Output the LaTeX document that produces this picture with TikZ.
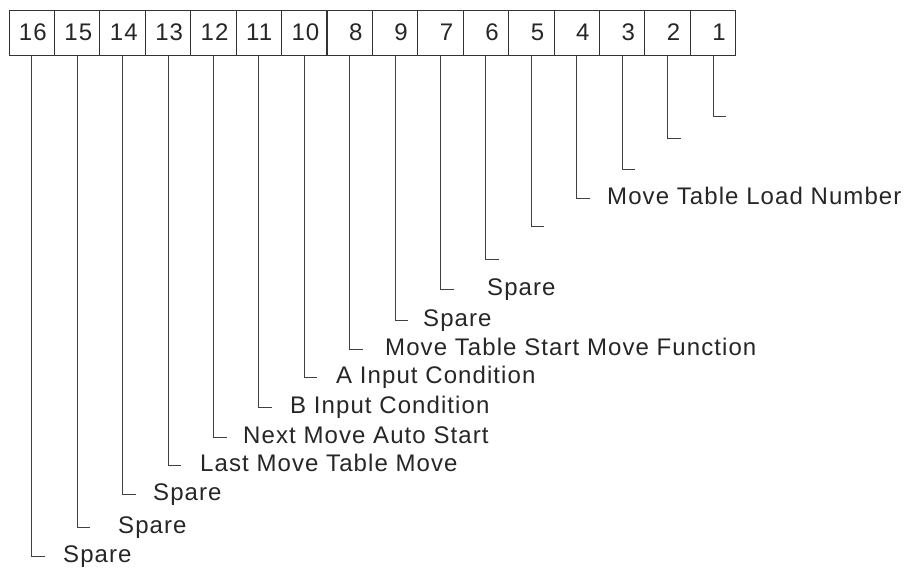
\documentclass[tikz,border=0pt]{standalone}
\usepackage{fontspec}
\setmainfont{Liberation Sans}[LetterSpace=4.5]
\usetikzlibrary{calc}

\begin{document}
\begin{tikzpicture}[x=1pt, y=-1pt,
    bitbox/.style={draw=black!80, line width=1pt, minimum height=45pt,
      text width=25.4pt, inner xsep=10pt, align=right, font=\fontsize{24}{28}\selectfont, text=black!85},
    lbl/.style={anchor=base west, inner sep=0pt, font=\fontsize{24}{28}\selectfont, text=black!85},
    leader/.style={draw=black!75, line width=1pt}]
    \useasboundingbox (0,0) rectangle (913,570);

    % 位框
    \node[bitbox] (b16) at (31.7, 32.5) {16};
    \node[bitbox] (b15) at (77.1, 32.5) {15};
    \node[bitbox] (b14) at (122.6, 32.5) {14};
    \node[bitbox] (b13) at (168.0, 32.5) {13};
    \node[bitbox] (b12) at (213.4, 32.5) {12};
    \node[bitbox] (b11) at (258.8, 32.5) {11};
    \node[bitbox] (b10) at (304.2, 32.5) {10};
    \node[bitbox] (b8) at (349.7, 32.5) {8};
    \node[bitbox] (b9) at (395.1, 32.5) {9};
    \node[bitbox] (b7) at (440.5, 32.5) {7};
    \node[bitbox] (b6) at (485.9, 32.5) {6};
    \node[bitbox] (b5) at (531.4, 32.5) {5};
    \node[bitbox] (b4) at (576.8, 32.5) {4};
    \node[bitbox] (b3) at (622.2, 32.5) {3};
    \node[bitbox] (b2) at (667.6, 32.5) {2};
    \node[bitbox] (b1) at (713.0, 32.5) {1};

    % 引线端点
    \coordinate (t1) at (726, 116);
    \coordinate (t2) at (681, 138);
    \coordinate (t3) at (635, 169);
    \coordinate (t4) at (590, 198);
    \coordinate (t5) at (544, 226);
    \coordinate (t6) at (499, 259);
    \coordinate (t7) at (454, 289);
    \coordinate (t9) at (408, 320.5);
    \coordinate (t8) at (363, 349);
    \coordinate (t10) at (317, 377);
    \coordinate (t11) at (272, 407);
    \coordinate (t12) at (227, 437);
    \coordinate (t13) at (181, 465);
    \coordinate (t14) at (136, 494);
    \coordinate (t15) at (90, 527);
    \coordinate (t16) at (45, 556);

    % 画线
    \draw[leader] (b1.south) |- (t1);
    \draw[leader] (b2.south) |- (t2);
    \draw[leader] (b3.south) |- (t3);
    \draw[leader] (b4.south) |- (t4);
    \draw[leader] (b5.south) |- (t5);
    \draw[leader] (b6.south) |- (t6);
    \draw[leader] (b7.south) |- (t7);
    \draw[leader] (b9.south) |- (t9);
    \draw[leader] (b8.south) |- (t8);
    \draw[leader] (b10.south) |- (t10);
    \draw[leader] (b11.south) |- (t11);
    \draw[leader] (b12.south) |- (t12);
    \draw[leader] (b13.south) |- (t13);
    \draw[leader] (b14.south) |- (t14);
    \draw[leader] (b15.south) |- (t15);
    \draw[leader] (b16.south) |- (t16);

    % 标注
    \node[lbl] (s4) at (607, 204) {Move Table Load Number};
    \node[lbl] (s7) at (487, 295) {Spare};
    \node[lbl] (s9) at (423, 326.5) {Spare};
    \node[lbl] (s8) at (385, 355) {Move Table Start Move Function};
    \node[lbl] (s10) at (336, 383) {A Input Condition};
    \node[lbl] (s11) at (290, 413) {B Input Condition};
    \node[lbl] (s12) at (243, 443) {Next Move Auto Start};
    \node[lbl] (s13) at (200, 471) {Last Move Table Move};
    \node[lbl] (s14) at (153, 500) {Spare};
    \node[lbl] (s15) at (118, 533) {Spare};
    \node[lbl] (s16) at (63, 562) {Spare};
\end{tikzpicture}
\end{document}
